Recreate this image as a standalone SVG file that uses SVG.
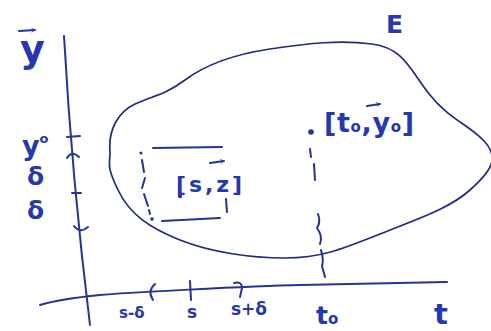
<svg xmlns="http://www.w3.org/2000/svg" width="491" height="331" viewBox="0 0 491 331">
<defs>
<style>
.ink{fill:none;stroke:#23339a;stroke-width:2;stroke-linecap:round;stroke-linejoin:round}
.thin{fill:none;stroke:#1f2b80;stroke-width:1.7;stroke-linecap:round;stroke-linejoin:round}
.lbl{fill:#2538b0;font-family:"DejaVu Sans","Liberation Sans",sans-serif;font-weight:bold}
</style>
<marker id="ah" viewBox="0 0 10 10" refX="8" refY="5" markerWidth="5" markerHeight="5" orient="auto" markerUnits="userSpaceOnUse">
<path d="M1,1 L8,5 L1,9" fill="none" stroke="#2538b0" stroke-width="1.6"/>
</marker>
</defs>
<rect width="491" height="331" fill="#ffffff"/>

<g id="axes">
<path class="ink" d="M64,36 Q72,180 90,325"/>
<path class="ink" d="M40,305 C60,299 80,297 100,295 S250,286 300,285 L447,282"/>
<path class="ink" d="M67,137 L80,136"/>
<path class="ink" d="M67,158 Q72,150 79,157"/>
<path class="ink" d="M72,193 L81,193"/>
<path class="ink" d="M74,226 Q80,234 88,227"/>
<path class="ink" d="M155,284 Q147,291 153,300"/>
<path class="ink" d="M190,281 L191,300"/>
<path class="ink" d="M234,283 Q242,281 242,288 L240,297"/>
<text class="lbl" x="20" y="62" font-size="38" font-weight="normal">y</text>
<path class="ink" d="M19,31 L35,30" stroke-width="1.8" marker-end="url(#ah)"/>
<text class="lbl" x="22" y="155" font-size="27">y<tspan font-size="13" dy="-12">o</tspan></text>
<text class="lbl" x="27" y="185" font-size="25">δ</text>
<text class="lbl" x="27" y="219" font-size="25">δ</text>
<text class="lbl" x="119" y="318" font-size="15">s-δ</text>
<text class="lbl" x="187" y="318" font-size="17">s</text>
<text class="lbl" x="231" y="315" font-size="17">s+δ</text>
<text class="lbl" x="316" y="324" font-size="25">t<tspan font-size="15">o</tspan></text>
<text class="lbl" x="434" y="324" font-size="29">t</text>
</g>

<g id="E">
<path class="thin" d="M110,152 C108,130 118,112 135,104 S165,95 185,80 S230,55 270,49 S340,40 372,44 S410,70 430,95 S470,125 485,142 S490,172 470,190 S420,218 380,234 S320,258 285,258 S210,252 180,240 S130,215 118,190 S110,165 110,152 Z"/>
<text class="lbl" x="386" y="33" font-size="25" font-weight="normal">E</text>
</g>

<g id="point-s-z">
<circle cx="180" cy="196" r="2.2" fill="#23339a"/>
<text class="lbl" x="176" y="192" font-size="22" textLength="66" lengthAdjust="spacing">[s,z]</text>
<path class="ink" d="M210,163 L224,161" stroke-width="1.6" marker-end="url(#ah)"/>
</g>

<g id="point-t0-y0">
<circle cx="311" cy="132" r="2.8" fill="#23339a"/>
<text class="lbl" x="324" y="132" font-size="27" textLength="90" lengthAdjust="spacing">[t<tspan font-size="15">o</tspan>,y<tspan font-size="15">o</tspan>]</text>
<path class="ink" d="M367,106 L380,104" stroke-width="1.6" marker-end="url(#ah)"/>
</g>

<g id="connectors">
<circle cx="141" cy="153" r="1.6" fill="#23339a"/>
<path class="ink" d="M153,148 L222,147"/>
<path class="ink" d="M142,160 L144,172 M145,178 L142,188 M144,194 L148,206 M149,210 L150,214"/>
<circle cx="152" cy="219" r="1.8" fill="#23339a"/>
<path class="ink" d="M162,221 L220,218"/>
<path class="ink" d="M226,199 L227,212"/>
<path class="ink" d="M310,149 L311,157 M314,164 L315,180 M318,214 Q321,222 317,228 Q323,236 320,244 M321,250 Q324,260 322,266 L325,277"/>
</g>
</svg>
